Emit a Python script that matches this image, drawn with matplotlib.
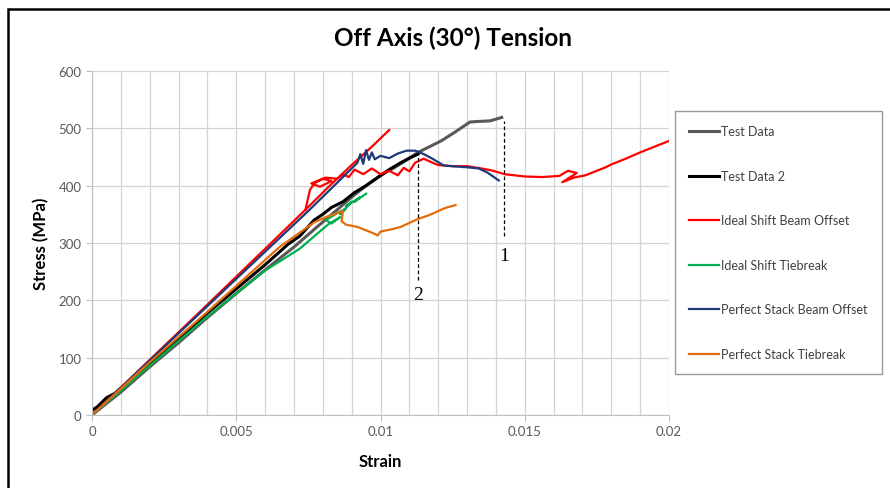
import numpy as np
import matplotlib
matplotlib.use('Agg')
import matplotlib.pyplot as plt
from matplotlib.ticker import MultipleLocator
from matplotlib.patches import Rectangle

plt.rcParams['font.family'] = ['Lato', 'DejaVu Sans']

# series: strain, stress (MPa)
test_x = [0, 0.001, 0.002, 0.003, 0.004, 0.005, 0.006, 0.007, 0.0078, 0.0085, 0.009, 0.0095, 0.010,
          0.0105, 0.0110, 0.0113, 0.0117, 0.0121, 0.0126, 0.0131, 0.0134, 0.0138, 0.0142]
test_y = [0, 40, 84, 126, 170, 212, 253, 293, 328, 358, 380, 400, 418,
          432, 448, 458, 468, 478, 494, 511, 512, 513, 519]

test2_x = [0, 0.0002, 0.0005, 0.0008, 0.001, 0.0013, 0.0016, 0.002, 0.003, 0.004, 0.005, 0.006, 0.0068,
           0.0072, 0.0077, 0.008, 0.0083, 0.0087, 0.0091, 0.0095, 0.0099, 0.0103, 0.0107, 0.0110, 0.0113]
test2_y = [8, 15, 30, 38, 47, 58, 72, 90, 132, 178, 220, 262, 298,
           312, 340, 350, 362, 372, 388, 400, 414, 428, 440, 448, 455]

red_x = [0, 0.0037, 0.0074, 0.0082, 0.0090, 0.0097, 0.0103, np.nan,
         0.0074, 0.00755, 0.0077, 0.0080, 0.0083, 0.0079, 0.0076, 0.0081, 0.0085, 0.0087, 0.0089, 0.0091,
         0.0094, 0.0097, 0.0100, 0.0103, 0.0106, 0.0108, 0.0110, 0.0112, 0.0115, 0.0118, 0.0120, 0.0125,
         0.0130, 0.0135, 0.0139, 0.0143, 0.0150, 0.0156, 0.0162, 0.0165, 0.0168, 0.0163, 0.0167, 0.0171,
         0.0175, 0.0178, 0.0180, 0.0185, 0.0190, 0.0195, 0.0200]
red_y = [0, 178, 358, 398, 436, 468, 497, np.nan,
         358, 392, 404, 412, 408, 398, 404, 414, 412, 420, 415, 428,
         420, 430, 420, 426, 418, 431, 425, 440, 447, 440, 436, 434,
         434, 430, 426, 420, 416, 415, 417, 426, 422, 406, 414, 418,
         426, 432, 437, 447, 458, 468, 478]

green_x = [0, 0.002, 0.004, 0.006, 0.0072, 0.0078, 0.0082, 0.0086, 0.0083, 0.0081, 0.0085, 0.0088,
           0.0086, 0.0090, 0.0088, 0.0093, 0.0091, 0.0095]
green_y = [0, 86, 172, 252, 290, 316, 333, 345, 334, 340, 352, 360,
           350, 372, 364, 380, 372, 386]

blue_x = [0, 0.0040, 0.0075, 0.0088, 0.0092, 0.0093, 0.0094, 0.0095, 0.0096, 0.0097, 0.0098, 0.0100,
          0.0103, 0.0106, 0.0109, 0.0112, 0.0115, 0.0118, 0.0122, 0.0130, 0.0134, 0.0137, 0.0141]
blue_y = [0, 190, 356, 420, 440, 455, 438, 462, 445, 458, 446, 452,
          448, 456, 461, 461, 455, 447, 435, 432, 430, 423, 409]

orange_x = [0, 0.002, 0.004, 0.0065, 0.0077, 0.0082, 0.0085, 0.0087, 0.00865, 0.0088, 0.0092, 0.0095,
            0.0098, 0.0099, 0.0100, 0.0104, 0.0107, 0.0110, 0.0113, 0.0116, 0.0118, 0.0121, 0.0123, 0.0126]
orange_y = [0, 92, 180, 293, 336, 347, 352, 356, 338, 332, 328, 322,
            316, 313, 320, 324, 328, 335, 342, 347, 351, 358, 362, 366]

series = [
    ('Test Data', test_x, test_y, '#595959', 2.2),
    ('Test Data 2', test2_x, test2_y, '#000000', 2.2),
    ('Ideal Shift Beam Offset', red_x, red_y, '#FF0000', 1.6),
    ('Ideal Shift Tiebreak', green_x, green_y, '#00B050', 1.6),
    ('Perfect Stack Beam Offset', blue_x, blue_y, '#1F3A7A', 1.6),
    ('Perfect Stack Tiebreak', orange_x, orange_y, '#E46C0A', 1.6),
]

# dashed markers: strain, top, bottom, label y
mark_labels = ['1', '2']
mark_x = [0.01428, 0.0113]
mark_top = [512, 452]
mark_bot = [312, 236]
mark_text_y = [278, 210]

fig = plt.figure(figsize=(8.9, 4.89), dpi=100)
ax = fig.add_axes([0.1034, 0.1493, 0.6483, 0.7035])

for name, x, y, c, lw in series:
    ax.plot(x, y, color=c, lw=lw, label=name, solid_joinstyle='round')

for lab, mx, t, b, ty in zip(mark_labels, mark_x, mark_top, mark_bot, mark_text_y):
    ax.plot([mx, mx], [b, t], color='black', lw=0.9, ls=(0, (3, 2)))
    ax.text(mx, ty, lab, ha='center', va='center', fontsize=14, family='Liberation Serif')

ax.set_xlim(0, 0.02)
ax.set_ylim(0, 600)
ax.xaxis.set_major_locator(MultipleLocator(0.005))
ax.xaxis.set_minor_locator(MultipleLocator(0.001))
ax.yaxis.set_major_locator(MultipleLocator(100))
ax.set_xticks([0, 0.005, 0.01, 0.015, 0.02])
ax.set_xticklabels(['0', '0.005', '0.01', '0.015', '0.02'])
ax.grid(which='both', axis='x', color='#D4D4D4', lw=0.9)
ax.grid(which='major', axis='y', color='#D4D4D4', lw=0.9)
ax.set_axisbelow(True)
for s in ['top', 'right']:
    ax.spines[s].set_visible(False)
for s in ['left', 'bottom']:
    ax.spines[s].set_color('#BFBFBF')
ax.tick_params(which='both', colors='#BFBFBF', labelcolor='#595959', labelsize=9.5, length=4)
ax.tick_params(which='minor', length=0)

ax.set_xlabel('Strain', fontsize=12, fontweight='bold', labelpad=11)
ax.set_ylabel('Stress (MPa)', fontsize=12, fontweight='bold', labelpad=7)
fig.text(0.509, 0.922, 'Off Axis (30°) Tension', ha='center', va='center', fontsize=17.5, fontweight='bold')

leg = fig.legend(loc='upper left', bbox_to_anchor=(675 / 890, 1 - 112 / 489), fontsize=9,
                 frameon=True, fancybox=False, edgecolor='#808080', handlelength=2.4,
                 handletextpad=0.1, labelspacing=2.6, borderpad=1.15, borderaxespad=0)
leg.get_frame().set_linewidth(1.0)
for t in leg.get_texts():
    t.set_color('#404040')

fig.add_artist(Rectangle((8 / 890, -0.1), 1.2, 1.1 - 10 / 489, transform=fig.transFigure,
                         fill=False, edgecolor='black', lw=1.8))

fig.savefig('out.png', dpi=100)
